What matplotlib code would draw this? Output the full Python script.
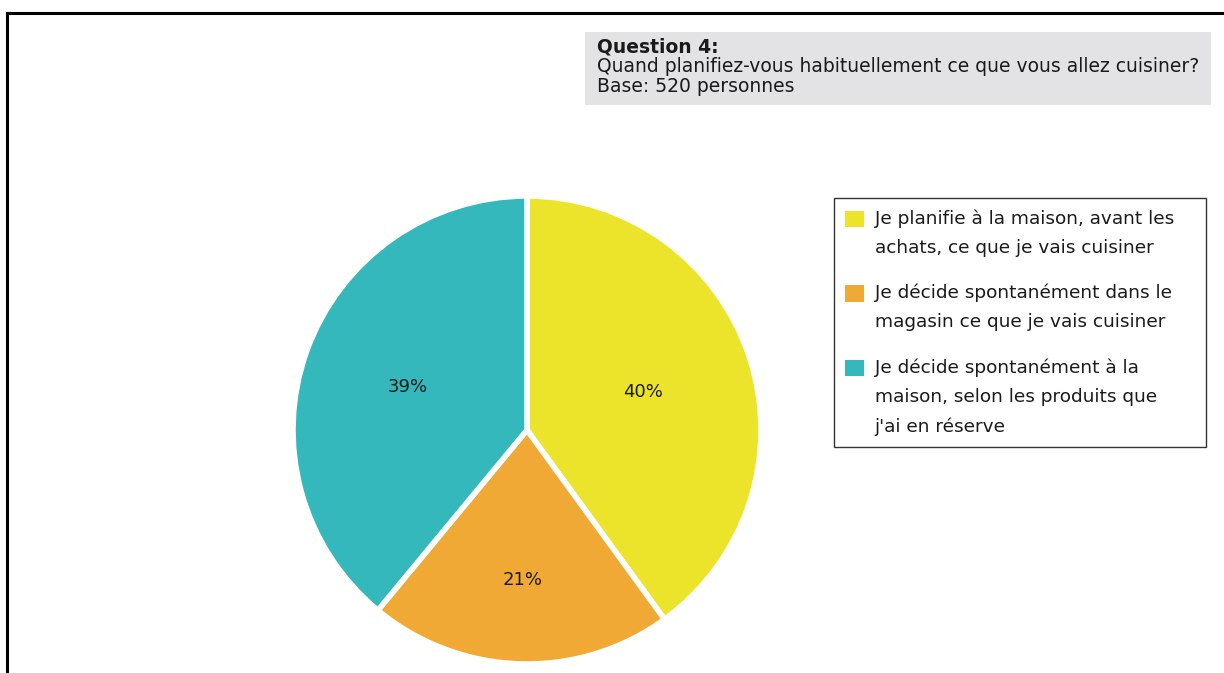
import matplotlib
matplotlib.use('Agg')
import matplotlib.pyplot as plt
from matplotlib.patches import Rectangle, Patch
from matplotlib.lines import Line2D
from matplotlib.legend_handler import HandlerPatch
import numpy as np

plt.rcParams['font.family'] = ['DejaVu Sans']

categories = [
    "Je planifie à la maison, avant les\nachats, ce que je vais cuisiner",
    "Je décide spontanément dans le\nmagasin ce que je vais cuisiner",
    "Je décide spontanément à la\nmaison, selon les produits que\nj'ai en réserve",
]
shares = [40, 21, 39]
colors = ['#ECE42B', '#F1A935', '#34B8BC']
label_dist = [0.52, 0.64, 0.54]

W, H = 1224, 673
fig = plt.figure(figsize=(W / 100, H / 100), dpi=100)
txt = '#1a1a1a'

# frame lines along top and left edges
fig.add_artist(Line2D([7 / W, 1], [1 - 13 / H] * 2, color='black', lw=2.2))
fig.add_artist(Line2D([7 / W] * 2, [0, 1 - 13 / H], color='black', lw=2.2))

# question header box
fig.add_artist(Rectangle((585 / W, 1 - 105 / H), 626 / W, 73 / H,
                         facecolor='#E3E3E5', edgecolor='none'))
fig.text(597 / W, 1 - 47 / H, "Question 4:", fontsize=13.5, fontweight='bold',
         va='center', ha='left', color=txt)
fig.text(597 / W, 1 - 67 / H, "Quand planifiez-vous habituellement ce que vous allez cuisiner?",
         fontsize=13.5, va='center', ha='left', color=txt)
fig.text(597 / W, 1 - 86 / H, "Base: 520 personnes", fontsize=13.5,
         va='center', ha='left', color=txt)

# pie
cx, cy, r = 527, 430, 234
ax = fig.add_axes([(cx - r) / W, (H - cy - r) / H, 2 * r / W, 2 * r / H])
wedges, _ = ax.pie(shares, colors=colors, startangle=90, counterclock=False,
                   wedgeprops=dict(edgecolor='white', linewidth=4))
for w, v, d in zip(wedges, shares, label_dist):
    ang = np.deg2rad((w.theta1 + w.theta2) / 2)
    ax.text(d * np.cos(ang), d * np.sin(ang), f"{v}%", ha='center', va='center',
            fontsize=13, color=txt)
ax.set_xlim(-1, 1)
ax.set_ylim(-1, 1)
ax.set_aspect('auto')
ax.axis('off')

# legend: colour square sits beside the first line of each label
line_step = 29.5 * 72 / 100  # points between label lines

def square_on_first_line(nlines):
    def make(legend, orig_handle, xdescent, ydescent, width, height, fontsize):
        return Rectangle((-xdescent, -ydescent + (nlines - 1) * line_step / 2),
                         width, height)
    return HandlerPatch(patch_func=make)

handles = [Patch(facecolor=c, edgecolor='none') for c in colors]
hmap = {h: square_on_first_line(lbl.count('\n') + 1) for h, lbl in zip(handles, categories)}
leg = fig.legend(handles, categories, handler_map=hmap, loc='upper left',
                 bbox_to_anchor=(834 / W, 1 - 447 / H, 372 / W, 249 / H), mode='expand',
                 frameon=True, fancybox=False,
                 edgecolor='black', fontsize=13.3, handlelength=1.0, handleheight=1.0,
                 handletextpad=0.6, labelspacing=1.45, borderpad=0.6,
                 borderaxespad=0)
leg.get_frame().set_linewidth(1)
for t in leg.get_texts():
    t.set_linespacing(1.8)
    t.set_color(txt)

fig.savefig('out.png', dpi=100)
